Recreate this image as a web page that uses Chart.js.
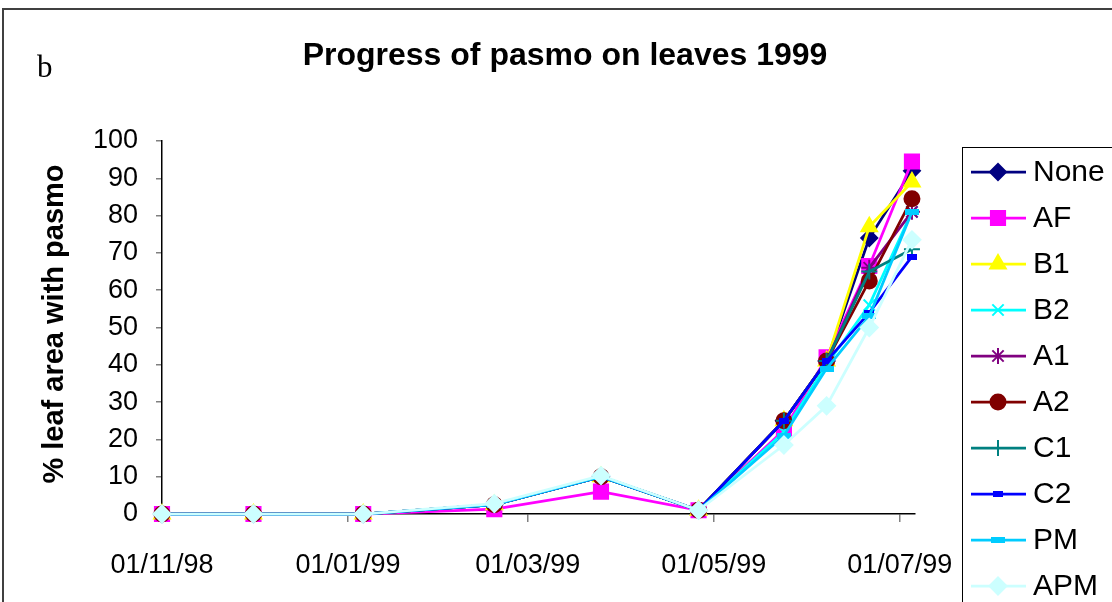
<!DOCTYPE html>
<html>
<head>
<meta charset="utf-8">
<script src="https://cdn.jsdelivr.net/npm/chart.js@4.4.1/dist/chart.umd.min.js"></script>
<style>
  html, body { margin: 0; padding: 0; background: #fff; }
  canvas { display: block; }
</style>
</head>
<body>
<canvas id="chart" width="1112" height="602"></canvas>
<script>
// Pasmo progress on leaves, 1999 season. Sampling dates + % leaf area per treatment.
const AXIS_START = '1998-11-01';
const AXIS_END = '1999-07-06';
const TICK_DATES = ['1998-11-01', '1999-01-01', '1999-03-01', '1999-05-01', '1999-07-01'];
const SAMPLE_DATES = [
  '1998-11-01', '1998-12-01', '1999-01-06', '1999-02-18', '1999-03-25',
  '1999-04-26', '1999-05-24', '1999-06-07', '1999-06-21', '1999-07-05',
];

const NONE = [0, 0, 0, 2.5, 10, 1, 25, 41, 74, 92];
const AF   = [0, 0, 0, 1.3, 6, 1, 22.5, 42, 66.5, 94.5];
const B1   = [0, 0, 0, 2.5, 10, 1, 25, 41, 77, 89];
const B2   = [0, 0, 0, 2.5, 10, 1, 22, 40, 56, 81];
const A1   = [0, 0, 0, 2.5, 10, 1, 25, 41, 66, 81];
const A2   = [0, 0, 0, 2.5, 10, 1, 25, 41, 62.5, 84.5];
const C1   = [0, 0, 0, 2.5, 10, 1, 25, 41, 65, 71];
const C2   = [0, 0, 0, 2.5, 10, 1, 25, 41, 54, 69];
const PM   = [0, 0, 0, 2.5, 10, 1, 21, 39, 53, 81];
const APM  = [0, 0, 0, 2.8, 10.3, 1, 18.5, 29, 50, 73.5];

const FONT = "'Liberation Sans', Arial, sans-serif";

function dayOf(s) {
  const [y, m, d] = s.split('-').map(Number);
  const [y0, m0, d0] = AXIS_START.split('-').map(Number);
  return (Date.UTC(y, m - 1, d) - Date.UTC(y0, m0 - 1, d0)) / 86400000;
}
function fmtDate(s) {
  const [y, m, d] = s.split('-');
  return `${d}/${m}/${y.slice(2)}`;
}
// small filled bar used by Excel's "dash" marker
function dashMarker(w, h, color) {
  const c = document.createElement('canvas');
  c.width = w; c.height = h;
  const g = c.getContext('2d');
  g.fillStyle = color;
  g.fillRect(0, 0, w, h);
  return c;
}

const SERIES = [
  { label: 'None', data: NONE, color: '#000080', style: 'rectRot', r: 8 },
  { label: 'AF',   data: AF,   color: '#FF00FF', style: 'rect', r: 10 },
  { label: 'B1',   data: B1,   color: '#FFFF00', style: 'triangle', r: 9 },
  { label: 'B2',   data: B2,   color: '#00FFFF', style: 'crossRot', r: 8 },
  { label: 'A1',   data: A1,   color: '#800080', style: 'star', r: 8 },
  { label: 'A2',   data: A2,   color: '#800000', style: 'circle', r: 7.5 },
  { label: 'C1',   data: C1,   color: '#008080', style: 'cross', r: 8 },
  { label: 'C2',   data: C2,   color: '#0000FF', style: dashMarker(10, 6, '#0000FF'), r: 6 },
  { label: 'PM',   data: PM,   color: '#00CCFF', style: dashMarker(14, 6, '#00CCFF'), r: 7 },
  { label: 'APM',  data: APM,  color: '#CCFFFF', style: 'rectRot', r: 8.5 },
];

const xs = SAMPLE_DATES.map(dayOf);
const tickDays = TICK_DATES.map(dayOf);

const datasets = SERIES.map((s, i) => ({
  label: s.label,
  data: s.data.map((v, k) => ({ x: xs[k], y: v })),
  borderColor: s.color,
  backgroundColor: s.color,
  borderWidth: 2.75,
  pointStyle: s.style,
  pointRadius: s.r,
  pointHoverRadius: s.r,
  pointBackgroundColor: s.color,
  pointBorderColor: s.color,
  pointBorderWidth: 2,
  tension: 0,
  clip: false,
  order: SERIES.length - i,   // later series drawn on top, like Excel
}));

const decorPlugin = {
  id: 'decor',
  beforeDraw(chart) {
    const ctx = chart.ctx;
    ctx.save();
    ctx.fillStyle = '#fff';
    ctx.fillRect(0, 0, chart.width, chart.height);
    // outer frame
    ctx.strokeStyle = '#404040';
    ctx.lineWidth = 2;
    ctx.beginPath();
    ctx.moveTo(3, 700); ctx.lineTo(3, 9); ctx.lineTo(1200, 9);
    ctx.stroke();
    ctx.restore();
  },
  afterDraw(chart) {
    const ctx = chart.ctx;
    ctx.save();
    ctx.fillStyle = '#000';
    ctx.textBaseline = 'middle';
    ctx.textAlign = 'center';
    ctx.font = `bold 32px ${FONT}`;
    ctx.fillText('Progress of pasmo on leaves 1999', 565, 56);
    ctx.textAlign = 'left';
    ctx.font = "31px 'Liberation Serif', 'Times New Roman', serif";
    ctx.fillText('b', 37, 69);
    // y axis title
    ctx.save();
    ctx.translate(55, 324);
    ctx.rotate(-Math.PI / 2);
    ctx.textAlign = 'center';
    ctx.font = `bold 29px ${FONT}`;
    ctx.fillText('% leaf area with pasmo', 0, 0);
    ctx.restore();

    // legend box
    ctx.strokeStyle = '#000';
    ctx.lineWidth = 1;
    ctx.strokeRect(962.5, 147.5, 300, 600);
    SERIES.forEach((s, i) => {
      const y = 172 + i * 46;
      ctx.strokeStyle = s.color;
      ctx.fillStyle = s.color;
      ctx.lineWidth = 2.75;
      ctx.beginPath();
      ctx.moveTo(971, y); ctx.lineTo(1026, y);
      ctx.stroke();
      ctx.lineWidth = 2;
      Chart.helpers.drawPoint(ctx, { pointStyle: s.style, radius: s.r, rotation: 0, borderWidth: 2 }, 998, y);
      ctx.fillStyle = '#000';
      ctx.font = `30px ${FONT}`;
      ctx.textAlign = 'left';
      ctx.fillText(s.label, 1033, y + 1);
    });
    ctx.restore();
  },
};

new Chart(document.getElementById('chart'), {
  type: 'line',
  data: { datasets },
  plugins: [decorPlugin],
  options: {
    responsive: false,
    animation: false,
    events: [],
    layout: { padding: { left: 0, top: 141, right: 197, bottom: 0 } },
    plugins: { legend: { display: false }, title: { display: false }, tooltip: { enabled: false } },
    scales: {
      x: {
        type: 'linear',
        min: 0,
        max: dayOf(AXIS_END),
        afterBuildTicks: (scale) => { scale.ticks = tickDays.map((v) => ({ value: v })); },
        afterFit: (scale) => { scale.height = 88; },
        border: { color: '#000', width: 1.5 },
        grid: {
          drawOnChartArea: false,
          tickLength: 8,
          lineWidth: 1.5,
          color: (c) => (c.index === 0 ? 'rgba(0,0,0,0)' : '#808080'),
        },
        ticks: {
          padding: 27,
          maxRotation: 0,
          autoSkip: false,
          color: '#000',
          font: { family: FONT, size: 27 },
          callback: (v) => {
            const i = tickDays.indexOf(v);
            return i >= 0 ? fmtDate(TICK_DATES[i]) : '';
          },
        },
      },
      y: {
        min: 0,
        max: 100,
        afterFit: (scale) => { scale.width = 162; },
        border: { color: '#000', width: 1.5 },
        grid: { drawOnChartArea: false, tickLength: 6, lineWidth: 1.5, color: '#808080' },
        ticks: {
          stepSize: 10,
          padding: 18,
          color: '#000',
          font: { family: FONT, size: 27 },
        },
      },
    },
  },
});
</script>
</body>
</html>
